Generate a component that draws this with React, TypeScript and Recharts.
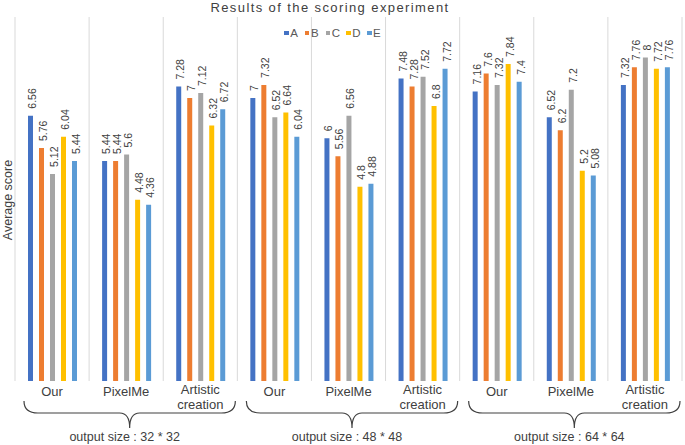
import * as React from "react";
import {
  BarChart,
  Bar,
  XAxis,
  YAxis,
  CartesianGrid,
  Legend,
  LabelList,
} from "recharts";

// one entry per category, three output sizes x three methods
const methods = ["Our", "PixelMe", "Artistic creation", "Our", "PixelMe", "Artistic creation", "Our", "PixelMe", "Artistic creation"];
const groupLabels = ["output size : 32 * 32", "output size : 48 * 48", "output size : 64 * 64"];

const seriesA = [6.56, 5.44, 7.28, 7, 6, 7.48, 7.16, 6.52, 7.32];
const seriesB = [5.76, 5.44, 7, 7.32, 5.56, 7.28, 7.6, 6.2, 7.76];
const seriesC = [5.12, 5.6, 7.12, 6.52, 6.56, 7.52, 7.32, 7.2, 8];
const seriesD = [6.04, 4.48, 6.32, 6.64, 4.8, 6.8, 7.84, 5.2, 7.72];
const seriesE = [5.44, 4.36, 6.72, 6.04, 4.88, 7.72, 7.4, 5.08, 7.76];

const SERIES = [
  { key: "A", color: "#4472C4" },
  { key: "B", color: "#ED7D31" },
  { key: "C", color: "#A5A5A5" },
  { key: "D", color: "#FFC000" },
  { key: "E", color: "#5B9BD5" },
];

const W = 685;
const H = 445;
const PLOT_LEFT = 15;
const PLOT_RIGHT = 682;
const PLOT_TOP = 17;
const PLOT_BOTTOM = 381;
const X_AXIS_H = 30;
const FONT = "'Liberation Sans', Arial, Helvetica, sans-serif";
const TEXT = "#404040";

const data = methods.map((m, i) => ({
  id: i,
  method: m,
  A: seriesA[i],
  B: seriesB[i],
  C: seriesC[i],
  D: seriesD[i],
  E: seriesE[i],
}));

function CategoryTick(props: any) {
  const { x, y, payload } = props;
  const label = methods[payload.value] ?? "";
  const words = label.split(" ");
  if (words.length === 1) {
    return (
      <text x={x} y={y + 7} textAnchor="middle" fontSize={13} fill={TEXT} fontFamily={FONT}>
        {label}
      </text>
    );
  }
  return (
    <text x={x} textAnchor="middle" fontSize={13} fill={TEXT} fontFamily={FONT}>
      <tspan x={x} y={y + 5}>{words[0]}</tspan>
      <tspan x={x} y={y + 19.5}>{words.slice(1).join(" ")}</tspan>
    </text>
  );
}

function ValueLabel(props: any) {
  const { x, y, width, value } = props;
  const cx = Number(x) + Number(width) / 2 + 1.5;
  const cy = Number(y) - 7;
  return (
    <text
      x={cx}
      y={cy}
      transform={`rotate(-90, ${cx}, ${cy})`}
      textAnchor="start"
      dominantBaseline="central"
      fontSize={10.5}
      fill={TEXT}
      fontFamily={FONT}
    >
      {value}
    </text>
  );
}

function LegendContent() {
  return (
    <div
      style={{
        display: "flex",
        justifyContent: "center",
        alignItems: "center",
        fontFamily: FONT,
        fontSize: 11.5,
        color: "#595959",
        paddingRight: 13,
      }}
    >
      {SERIES.map((s) => (
        <span key={s.key} style={{ display: "inline-flex", alignItems: "center", width: 20.7, flex: "0 0 20.7px" }}>
          <span style={{ width: 4.5, height: 4.5, background: s.color, marginRight: 1.5, display: "inline-block" }} />
          {s.key}
        </span>
      ))}
    </div>
  );
}

function Overlay() {
  const band = (PLOT_RIGHT - PLOT_LEFT) / methods.length;
  const top = 401;
  const mid = 413;
  const tip = 428;
  return (
    <svg
      width={W}
      height={H}
      style={{ position: "absolute", left: 0, top: 0, pointerEvents: "none" }}
    >
      <text x={330} y={12} textAnchor="middle" fontSize={13} letterSpacing={1.4} fill={TEXT} fontFamily={FONT}>
        Results of the scoring experiment
      </text>
      <text
        x={8}
        y={200}
        transform="rotate(-90, 8, 200)"
        textAnchor="middle"
        dominantBaseline="central"
        fontSize={12.5}
        fill={TEXT}
        fontFamily={FONT}
      >
        Average score
      </text>
      {groupLabels.map((g, i) => {
        const x0 = PLOT_LEFT + i * 3 * band + 9;
        const x1 = PLOT_LEFT + (i + 1) * 3 * band - 2;
        const xm = (x0 + x1) / 2;
        const d = `M${x0},${top} Q${x0},${mid} ${x0 + 14},${mid} L${xm - 10},${mid} Q${xm},${mid} ${xm},${tip} Q${xm},${mid} ${xm + 10},${mid} L${x1 - 14},${mid} Q${x1},${mid} ${x1},${top}`;
        return (
          <g key={g}>
            <path d={d} fill="none" stroke="#404040" strokeWidth={1.2} />
            <text x={xm - 5} y={440.5} textAnchor="middle" fontSize={12.5} fill={TEXT} fontFamily={FONT}>
              {g}
            </text>
          </g>
        );
      })}
    </svg>
  );
}

export default function App() {
  return (
    <div style={{ position: "absolute", left: 0, top: 0, width: W, height: H, background: "#fff" }}>
      <BarChart
        width={W}
        height={H}
        data={data}
        margin={{ top: PLOT_TOP, right: W - PLOT_RIGHT, bottom: H - PLOT_BOTTOM - X_AXIS_H, left: 0 }}
        barSize={5}
        barGap={6}
      >
        <CartesianGrid
          horizontal={false}
          stroke="#d9d9d9"
          verticalCoordinatesGenerator={({ offset }: any) =>
            Array.from({ length: methods.length + 1 }, (_, i) => offset.left + (i * offset.width) / methods.length)
          }
        />
        <XAxis
          dataKey="id"
          type="category"
          height={X_AXIS_H}
          axisLine={false}
          tickLine={false}
          interval={0}
          tick={<CategoryTick />}
        />
        <YAxis domain={[0, 9]} width={PLOT_LEFT} tick={false} axisLine={false} tickLine={false} />
        <Legend
          layout="horizontal"
          verticalAlign="middle"
          align="center"
          content={<LegendContent />}
          wrapperStyle={{ top: 27, left: 0, width: W }}
        />
        {SERIES.map((s) => (
          <Bar key={s.key} dataKey={s.key} fill={s.color} isAnimationActive={false}>
            <LabelList dataKey={s.key} content={<ValueLabel />} />
          </Bar>
        ))}
      </BarChart>
      <Overlay />
    </div>
  );
}
